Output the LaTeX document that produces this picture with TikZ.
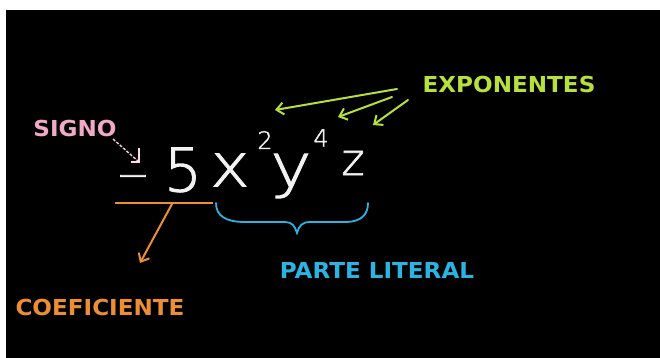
\documentclass[tikz,border=0pt]{standalone}
\usepackage{fontspec}
\setmainfont{DejaVu Sans}
\newfontfamily\hand[FakeBold=1.6]{DejaVu Sans ExtraLight}
\usetikzlibrary{arrows.meta}
\definecolor{pinklbl}{HTML}{F2A9C6}
\definecolor{limelbl}{HTML}{B6E03C}
\definecolor{orangelbl}{HTML}{EC8E32}
\definecolor{cyanlbl}{HTML}{2BB3E2}
\definecolor{chalk}{HTML}{F2F2F2}
\tikzset{
  lbl/.style={font=\bfseries\fontsize{22}{24}\selectfont, inner sep=0pt, xscale=1.05},
  big/.style={text=chalk, font=\hand\fontsize{60}{60}\selectfont, inner sep=0pt},
  small/.style={text=chalk, font=\hand\fontsize{24}{24}\selectfont, inner sep=0pt},
  hd/.style={-{Straight Barb[length=7pt,width=12pt]}, line width=2pt, line cap=round},
}
\begin{document}
\begin{tikzpicture}[x=1pt,y=-1pt]
\useasboundingbox (0,0) rectangle (660,358);
\fill[white] (0,0) rectangle (660,358);
\fill[black] (6,10) rectangle (660,358);
% expression
\node[text=chalk, font=\hand\fontsize{40}{40}\selectfont, inner sep=0pt] (minus) at (133,182) {−};
\node[big] (five) at (183,170) {5};
\node[big, xscale=1.1] (xx) at (230,170) {x};
\node[small] (e2) at (265,140) {2};
\node[big, xscale=1.15] (yy) at (291,176) {y};
\node[small] (e4) at (321,138) {4};
\node[big, font=\hand\fontsize{44}{44}\selectfont] (zz) at (353,163) {z};
% labels
\node[lbl, text=pinklbl] (signo) at (75,128) {SIGNO};
\node[lbl, text=limelbl] (expo) at (509,84) {EXPONENTES};
\node[lbl, text=orangelbl] (coef) at (100,307) {COEFICIENTE};
\node[lbl, text=cyanlbl] (parte) at (377,270) {PARTE LITERAL};
% coordinates
\coordinate (sA) at (113,139);
\coordinate (sB) at (139,162);
\coordinate (u1) at (115,203);
\coordinate (u2) at (213,203);
\coordinate (cA) at (172,204);
\coordinate (cB) at (140,263);
\coordinate (x1a) at (397,89);
\coordinate (x1b) at (275,110);
\coordinate (x2a) at (392,97);
\coordinate (x2b) at (338,117);
\coordinate (x3a) at (408,100);
\coordinate (x3b) at (373,125);
% signo arrow
\draw[pinklbl!60!white, dash pattern=on 3pt off 1.5pt, line width=1.4pt] (sA) -- (sB);
\draw[pinklbl!40!white, line width=1.4pt] ([yshift=14pt]sB) -- (sB) -- ([xshift=-8pt]sB);
% coefficient underline and arrow
\draw[orangelbl, line width=1.6pt] (u1) -- (u2);
\draw[hd, orangelbl] (cA) -- (cB);
% exponent arrows
\draw[hd, limelbl] (x1a) -- (x1b);
\draw[hd, limelbl] (x2a) -- (x2b);
\draw[hd, limelbl] (x3a) -- (x3b);
% brace
\draw[cyanlbl, line width=1.8pt, line cap=round]
  (216,203) .. controls (216,216) and (226,222) .. (245,222)
  -- (285,222) .. controls (292,222) and (295,226) .. (297,233)
  .. controls (299,226) and (302,222) .. (310,222)
  -- (345,222) .. controls (362,222) and (368,214) .. (368,203);
\end{tikzpicture}
\end{document}
